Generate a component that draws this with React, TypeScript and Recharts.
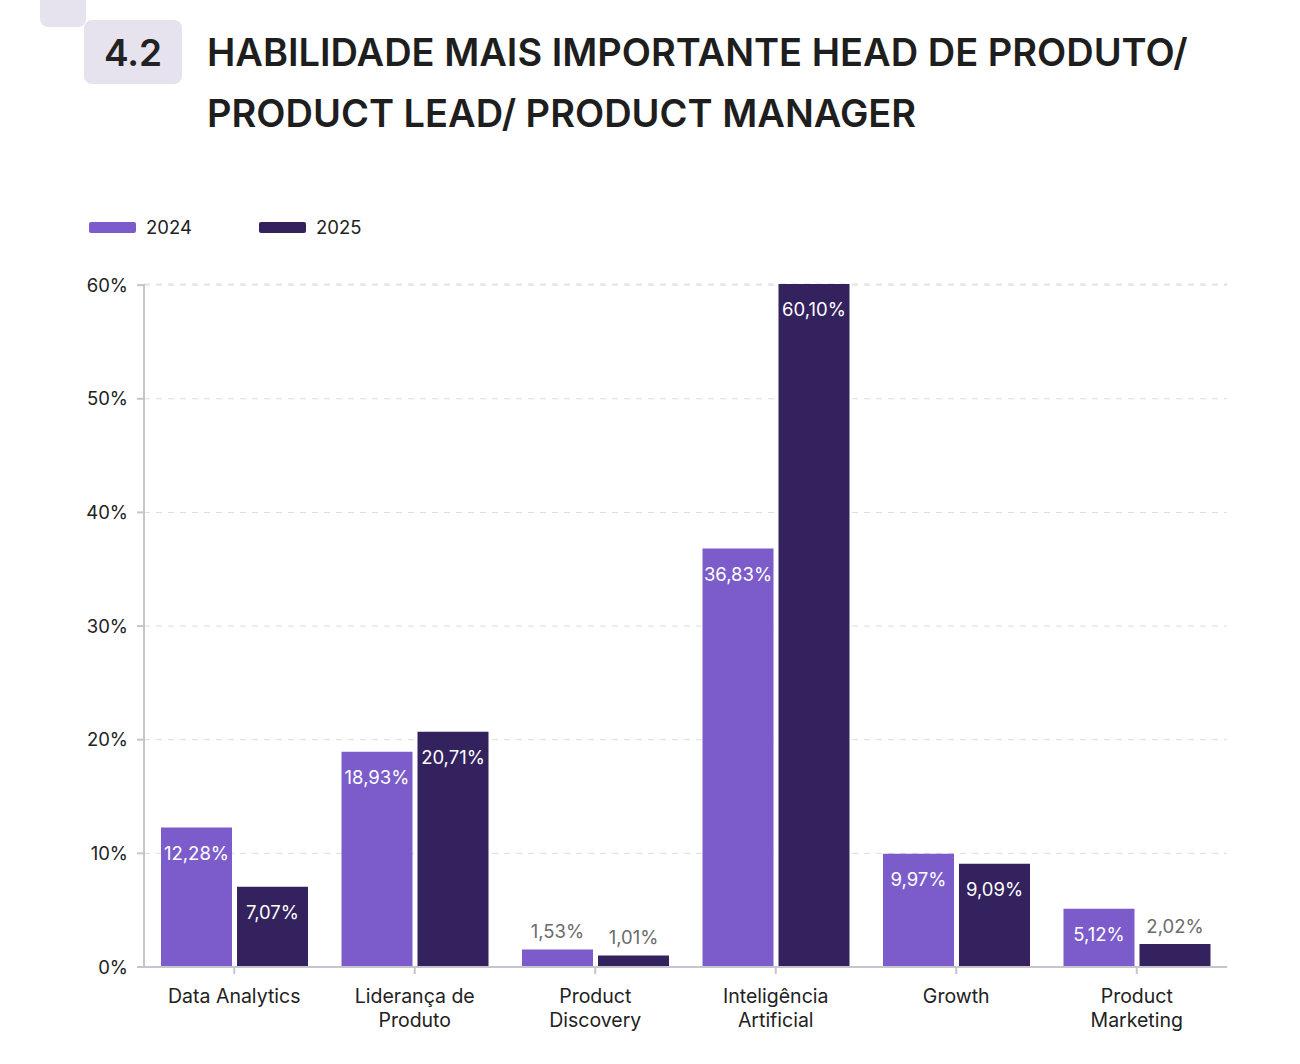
import { BarChart, Bar, XAxis, YAxis, CartesianGrid, LabelList } from 'recharts';

// Skill ranking for Head de Produto / Product Lead / PM, 2024 vs 2025 (percent of answers)
const categories = [
  'Data Analytics',
  'Liderança de Produto',
  'Product Discovery',
  'Inteligência Artificial',
  'Growth',
  'Product Marketing',
];
const categoryLines = [
  ['Data Analytics'],
  ['Liderança de', 'Produto'],
  ['Product', 'Discovery'],
  ['Inteligência', 'Artificial'],
  ['Growth'],
  ['Product', 'Marketing'],
];
const values2024 = [12.28, 18.93, 1.53, 36.83, 9.97, 5.12];
const values2025 = [7.07, 20.71, 1.01, 60.1, 9.09, 2.02];
const yTicks = [0, 10, 20, 30, 40, 50, 60];

const seriesNames = ['2024', '2025'];
const seriesColors = ['#7b5cca', '#33225e'];

const FONT = 'Inter, "Noto Sans", sans-serif';

const data = categories.map((name, i) => ({
  name,
  lines: categoryLines[i],
  v2024: values2024[i],
  v2025: values2025[i],
}));

const fmt = (v: number) => v.toFixed(2).replace('.', ',') + '%';

// value label: inside the top of the bar, or above it when the bar is short
function ValueLabel(props: any) {
  const { x, y, width, height, value } = props;
  const cx = x + width / 2;
  const inside = height > 40;
  return (
    <text
      x={cx}
      y={inside ? y + 26 : y - 18}
      dy="0.35em"
      textAnchor="middle"
      fontFamily={FONT}
      fontSize={18.5}
      fill={inside ? '#ffffff' : '#6b6b6b'}
    >
      {fmt(value)}
    </text>
  );
}

function CategoryTick(props: any) {
  const { x, y, index } = props;
  const lines = categoryLines[index] || [];
  return (
    <text x={x} y={y + 27} textAnchor="middle" fontFamily={FONT} fontSize={19.5} fill="#222">
      {lines.map((l, i) => (
        <tspan key={i} x={x} dy={i === 0 ? 0 : 24}>
          {l}
        </tspan>
      ))}
    </text>
  );
}

export default function App() {
  return (
    <div
      style={{
        position: 'absolute',
        left: 0,
        top: 0,
        width: 1300,
        height: 1064,
        background: '#fff',
        fontFamily: FONT,
        overflow: 'hidden',
      }}
    >
      {/* section badge */}
      <div
        style={{
          position: 'absolute',
          left: 40,
          top: -12,
          width: 46,
          height: 39,
          background: '#e6e3ef',
          borderRadius: 8,
        }}
      />
      <div
        style={{
          position: 'absolute',
          left: 84,
          top: 20,
          width: 98,
          height: 64,
          background: '#e6e3ef',
          borderRadius: 8,
          display: 'flex',
          alignItems: 'center',
          justifyContent: 'center',
          fontSize: 37,
          fontWeight: 600,
          color: '#222',
        }}
      >
        4.2
      </div>
      <div
        style={{
          position: 'absolute',
          left: 207,
          top: 22,
          fontSize: 38,
          fontWeight: 600,
          lineHeight: '61px',
          color: '#1e1e1e',
          whiteSpace: 'nowrap',
        }}
      >
        HABILIDADE MAIS IMPORTANTE HEAD DE PRODUTO/
        <br />
        PRODUCT LEAD/ PRODUCT MANAGER
      </div>

      {/* legend */}
      {seriesNames.map((n, i) => (
        <div
          key={n}
          style={{
            position: 'absolute',
            left: 89 + i * 170,
            top: 215,
            height: 24,
            display: 'flex',
            alignItems: 'center',
            fontSize: 18.5,
            color: '#222',
          }}
        >
          <span
            style={{
              display: 'inline-block',
              width: 47,
              height: 11,
              borderRadius: 2,
              background: seriesColors[i],
              marginRight: 10,
            }}
          />
          {n}
        </div>
      ))}

      <div style={{ position: 'absolute', left: 0, top: 0 }}>
        <BarChart
          width={1300}
          height={1064}
          data={data}
          margin={{ top: 284, right: 73, bottom: 37, left: 0 }}
          barCategoryGap={17}
          barGap={5}
        >
          <CartesianGrid vertical={false} stroke="#dcdcdc" strokeDasharray="6 6" />
          <XAxis
            dataKey="name"
            axisLine={{ stroke: '#c6c4cc', strokeWidth: 2 }}
            tickLine={{ stroke: '#c6c4cc', strokeWidth: 2 }}
            tickSize={7}
            height={60}
            interval={0}
            tick={<CategoryTick />}
          />
          <YAxis
            domain={[0, 'dataMax']}
            ticks={yTicks}
            width={144}
            tickFormatter={(v) => `${v}%`}
            axisLine={{ stroke: '#c6c4cc', strokeWidth: 2 }}
            tickLine={{ stroke: '#c6c4cc', strokeWidth: 2 }}
            tickSize={7}
            tickMargin={9}
            tick={{ fill: '#222', fontSize: 18.5, fontFamily: FONT }}
          />
          <Bar dataKey="v2024" name={seriesNames[0]} fill={seriesColors[0]} isAnimationActive={false}>
            <LabelList dataKey="v2024" content={<ValueLabel />} />
          </Bar>
          <Bar dataKey="v2025" name={seriesNames[1]} fill={seriesColors[1]} isAnimationActive={false}>
            <LabelList dataKey="v2025" content={<ValueLabel />} />
          </Bar>
        </BarChart>
      </div>
    </div>
  );
}
